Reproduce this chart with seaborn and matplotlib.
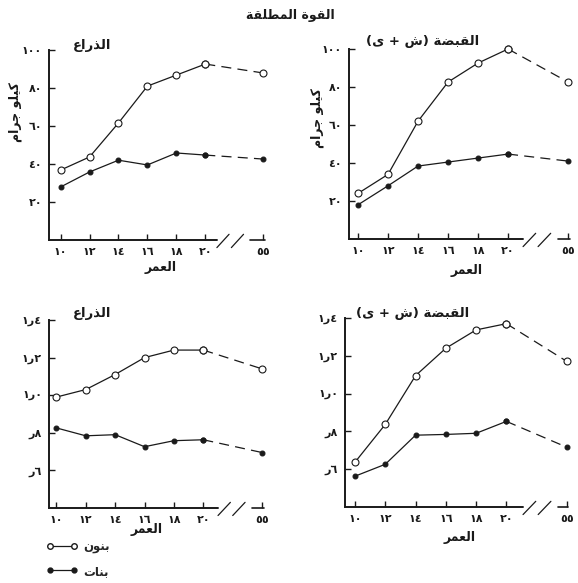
"""
Absolute strength (arm / grip) of boys and girls by age, four small panels
redrawn from a scanned Arabic book figure.
"""
import numpy as np
import pandas as pd
import seaborn as sns
import matplotlib.pyplot as plt
from matplotlib.lines import Line2D

# ---- data ----
ages = [10, 12, 14, 16, 18, 20, 55]
age_pos = [0, 1, 2, 3, 4, 5, 7]          # 55 sits after the axis break
age_labels = ["١٠", "١٢", "١٤", "١٦", "١٨", "٢٠", "٥٥"]

arm_kg_boys = [36.8, 43.7, 61.6, 81.0, 86.8, 92.6, 87.9]
arm_kg_girls = [27.9, 35.8, 42.0, 39.5, 45.8, 44.7, 42.6]
grip_kg_boys = [24.0, 34.0, 62.0, 82.6, 92.6, 100.0, 82.6]
grip_kg_girls = [18.0, 28.0, 38.4, 40.5, 42.6, 44.7, 41.0]

arm_rel_boys = [0.99, 1.03, 1.11, 1.20, 1.24, 1.24, 1.14]
arm_rel_girls = [0.826, 0.784, 0.79, 0.726, 0.758, 0.763, 0.695]
grip_rel_boys = [0.637, 0.837, 1.095, 1.24, 1.337, 1.37, 1.17]
grip_rel_girls = [0.563, 0.626, 0.78, 0.784, 0.79, 0.853, 0.716]

kg_ticks = [20, 40, 60, 80, 100]
kg_labels = ["٢٠", "٤٠", "٦٠", "٨٠", "١٠٠"]
rel_ticks = [0.6, 0.8, 1.0, 1.2, 1.4]
# visual order, left to right (ر is the decimal mark)
rel_labels = ["\u0631\u0666", "\u0631\u0668", "\u0661\u0631\u0660",
              "\u0661\u0631\u0662", "\u0661\u0631\u0664"]

# ---- tiny arabic shaper (matplotlib has no shaping / bidi) ----
FORMS = {
    'ا': ('\uFE8D', '\uFE8E', None, None),
    'ب': ('\uFE8F', '\uFE90', '\uFE91', '\uFE92'),
    'ت': ('\uFE95', '\uFE96', '\uFE97', '\uFE98'),
    'ة': ('\uFE93', '\uFE94', None, None),
    'ج': ('\uFE9D', '\uFE9E', '\uFE9F', '\uFEA0'),
    'ذ': ('\uFEAB', '\uFEAC', None, None),
    'ر': ('\uFEAD', '\uFEAE', None, None),
    'ش': ('\uFEB5', '\uFEB6', '\uFEB7', '\uFEB8'),
    'ض': ('\uFEBD', '\uFEBE', '\uFEBF', '\uFEC0'),
    'ط': ('\uFEC1', '\uFEC2', '\uFEC3', '\uFEC4'),
    'ع': ('\uFEC9', '\uFECA', '\uFECB', '\uFECC'),
    'ق': ('\uFED5', '\uFED6', '\uFED7', '\uFED8'),
    'ك': ('\uFED9', '\uFEDA', '\uFEDB', '\uFEDC'),
    'ل': ('\uFEDD', '\uFEDE', '\uFEDF', '\uFEE0'),
    'م': ('\uFEE1', '\uFEE2', '\uFEE3', '\uFEE4'),
    'ن': ('\uFEE5', '\uFEE6', '\uFEE7', '\uFEE8'),
    'و': ('\uFEED', '\uFEEE', None, None),
    'ى': ('\uFEEF', '\uFEF0', None, None),
    'ي': ('\uFEF1', '\uFEF2', '\uFEF3', '\uFEF4'),
}


def ar(text):
    out = []
    for i, ch in enumerate(text):
        if ch not in FORMS:
            out.append(ch)
            continue
        prev = text[i - 1] if i > 0 else ''
        nxt = text[i + 1] if i + 1 < len(text) else ''
        joins_prev = prev in FORMS and FORMS[prev][2] is not None
        joins_next = FORMS[ch][2] is not None and nxt in FORMS
        f = FORMS[ch]
        if joins_prev and joins_next:
            out.append(f[3])
        elif joins_prev:
            out.append(f[1])
        elif joins_next:
            out.append(f[2])
        else:
            out.append(f[0])
    return ''.join(out[::-1])


TITLE = ar("القوة المطلقة")
ARM = ar("الذراع")
# "(ى + ش)" drawn left to right: ى left of the plus, ش right of it
GRIP = "(\uFEEF + \uFEB5) " + ar("القبضة")
YLAB = ar("كيلو جرام")
XLAB = ar("العمر")
BOYS = ar("بنون")
GIRLS = ar("بنات")

sns.set_theme(style="ticks")
plt.rcParams['font.family'] = ['DejaVu Sans']

W, H = 578, 583
fig = plt.figure(figsize=(W / 100, H / 100), dpi=100)
INK = "#1a1a1a"


def px_axes(left, bottom, width, height):
    return fig.add_axes([left / W, 1 - bottom / H, width / W, height / H])


def panel(ax, boys, girls, xlim, ylim, yticks, ylabels, brk):
    df = pd.DataFrame({"pos": age_pos, "boys": boys, "girls": girls})
    solid, dashed = df.iloc[:6], df.iloc[5:]
    for col, face, ms in [("girls", INK, 3.5), ("boys", "white", 5)]:
        sns.lineplot(data=solid, x="pos", y=col, ax=ax, color=INK, lw=0.9,
                     marker="o", markersize=ms, markerfacecolor=face,
                     markeredgecolor=INK, markeredgewidth=0.8, clip_on=False)
        sns.lineplot(data=dashed, x="pos", y=col, ax=ax, color=INK, lw=0.9,
                     linestyle=(0, (8, 5)), marker="o", markersize=ms,
                     markerfacecolor=face, markeredgecolor=INK,
                     markeredgewidth=0.8, clip_on=False)
    ax.set_xlim(*xlim)
    ax.set_ylim(*ylim)
    ax.set_xticks(age_pos)
    ax.set_xticklabels(age_labels)
    ax.set_yticks(yticks)
    ax.set_yticklabels(ylabels)
    ax.tick_params(direction="in", length=4, width=1, colors=INK,
                   labelsize=8, pad=5)
    for lab in ax.get_xticklabels() + ax.get_yticklabels():
        lab.set_fontweight("bold")
    ax.set_xlabel("")
    ax.set_ylabel("")
    ax.set_facecolor("none")
    for s in ["top", "right", "bottom"]:
        ax.spines[s].set_visible(False)
    ax.spines["left"].set_linewidth(1.4)
    ax.spines["left"].set_color(INK)
    # broken x axis
    tr = ax.get_xaxis_transform()
    a, c = brk
    ax.plot([xlim[0], a], [0, 0], color=INK, lw=1.4, transform=tr, clip_on=False)
    ax.plot([c + 0.1, 7.05], [0, 0], color=INK, lw=1.2, transform=tr, clip_on=False)
    for x0 in (a, c - 0.55):
        ax.plot([x0, x0 + 0.42], [-0.04, 0.03], color=INK, lw=0.9,
                transform=tr, clip_on=False)


ax1 = px_axes(49, 240, 220, 190)
panel(ax1, arm_kg_boys, arm_kg_girls, (-0.4, 7.2), (0, 100), kg_ticks, kg_labels,
      (5.4, 6.45))
ax2 = px_axes(349, 239, 229, 190)
panel(ax2, grip_kg_boys, grip_kg_girls, (-0.3, 7.33), (0, 100), kg_ticks, kg_labels,
      (5.5, 6.55))
ax3 = px_axes(49, 508, 219, 188)
panel(ax3, arm_rel_boys, arm_rel_girls, (-0.25, 7.2), (0.4, 1.4), rel_ticks,
      rel_labels, (5.5, 6.55))
ax4 = px_axes(345, 507, 228, 189)
panel(ax4, grip_rel_boys, grip_rel_girls, (-0.33, 7.2), (0.4, 1.4), rel_ticks,
      rel_labels, (5.55, 6.6))


def ftext(x, y, s, size=9, **kw):
    fig.text(x / W, 1 - y / H, s, ha="center", va="center", fontsize=size,
             color=INK, fontweight="bold", **kw)


ftext(290, 15, TITLE, 9)
ftext(92, 45, ARM, 9.5)
ftext(423, 41, GRIP, 9.5)
ftext(92, 314, ARM, 9.5)
ftext(413, 313, GRIP, 9.5)
ftext(15, 112, YLAB, 9, rotation=90)
ftext(317, 118, YLAB, 9, rotation=90)
ftext(161, 268, XLAB, 9)
ftext(467, 270, XLAB, 9)
ftext(147, 530, XLAB, 9)
ftext(460, 538, XLAB, 9)

handles = [
    Line2D([], [], color=INK, lw=0.9, marker="o", markersize=4,
           markerfacecolor="white", markeredgecolor=INK),
    Line2D([], [], color=INK, lw=0.9, marker="o", markersize=3.5,
           markerfacecolor=INK, markeredgecolor=INK),
]
leg = fig.legend(handles, [BOYS, GIRLS], loc="upper left",
                 bbox_to_anchor=(36 / W, 1 - 530 / H), frameon=False,
                 numpoints=2, handlelength=2.6, handletextpad=0.5,
                 labelspacing=0.9, prop={"size": 8.5, "weight": "bold"})

fig.savefig("out.png", dpi=100, facecolor="white")
